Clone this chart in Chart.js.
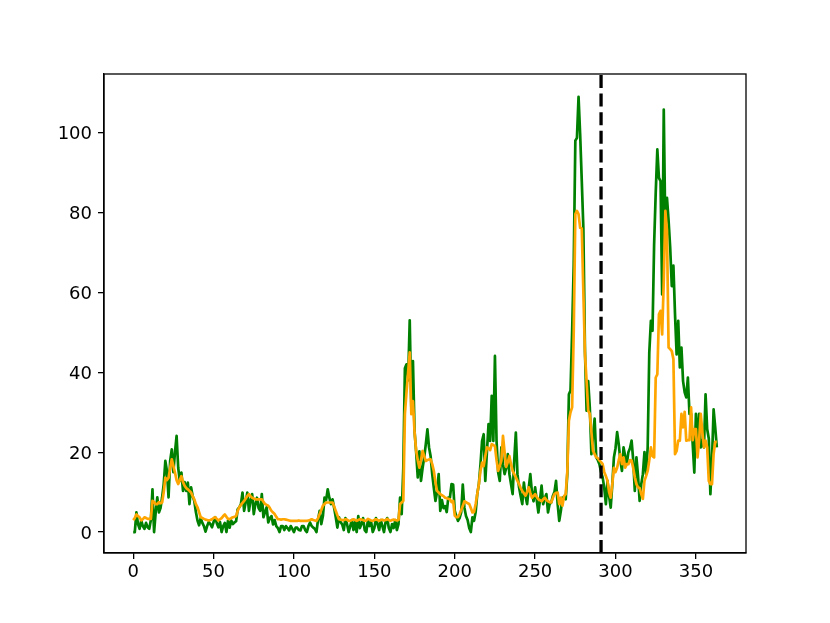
<!DOCTYPE html>
<html>
<head>
<meta charset="utf-8">
<script src="https://cdn.jsdelivr.net/npm/chart.js@4"></script>
<style>
	body { margin: 0; background: #fff; }
	canvas { display: block; }
</style>
</head>
<body>
<canvas id="myChart" width="830" height="623"></canvas>
<script>
// data
const greenValues = [
	0, 0, 4.9, 2, 0.8, 2.9, 1.5, 0.8, 2.3, 1.2,
	0.8, 3, 10.7, 0, 5, 8.7, 4.9, 6, 8.7, 12,
	17.8, 15.3, 8.7, 17.8, 20.7, 15, 20, 24.1, 16.1, 12.8,
	14.9, 10.3, 12.5, 10.3, 12.4, 7, 11.2, 9, 7.8, 5,
	2.9, 1.7, 3.5, 2.3, 1.5, 0.1, 1.5, 2.5, 2, 1.2,
	2.5, 3.7, 2.2, 1.2, 2.5, 0, 1.5, 2.3, 0, 2.9,
	1.1, 2.9, 2, 2.4, 2.7, 5.7, 6.2, 7, 9.9, 5.3,
	7.5, 9.9, 5.3, 8, 9.5, 4.5, 7, 8.6, 6, 5.3,
	9.5, 3.7, 5, 6.2, 2.4, 3.5, 4, 1.9, 3, 1.5,
	1, 0, 1.5, 1.5, 0.5, 1.5, 1, 0.4, 1.5, 0.8,
	0, 1.1, 1.1, 0.5, 0.4, 1.5, 1.5, 0.5, 0, 1.5,
	2.4, 1.5, 1.1, 0.8, 0, 3.2, 5.3, 2, 4, 8.6,
	8, 10.7, 8.6, 7, 8.2, 6, 3.7, 1.1, 3.7, 2.5,
	1.9, 0.5, 3.5, 2, 0, 1.5, 3, 0.5, 2.5, 0,
	4, 1, 2, 3.5, 0.5, 0, 3, 1.5, 2.5, 0,
	1, 3.5, 2, 0.5, 3, 1.5, 0, 2.5, 3.5, 1,
	0, 2, 1, 3, 0.5, 2, 8.6, 4.5, 16, 41,
	42, 38, 53, 31.2, 42.8, 25.3, 20, 13.7, 20.2, 12.8,
	16, 18.7, 22, 25.7, 21.2, 19, 14.5, 11, 7.8, 10,
	14.5, 5.3, 8, 6, 6.5, 5, 8.6, 8.6, 12, 11.9,
	5.3, 4, 2.8, 3.5, 4.9, 11.9, 6.1, 4, 3, 1,
	0, 3.7, 2.8, 5, 9.5, 12, 16.9, 22.8, 24.5, 12.8,
	20, 27, 22.8, 34.1, 22.8, 44.1, 22.8, 15, 12.8, 21.2,
	17, 14.5, 16, 19.5, 14.5, 12, 9.5, 18, 24.9, 14.5,
	11.2, 9, 7, 12.4, 9, 7, 11, 14.5, 10, 7.7,
	11.2, 8, 4.9, 8, 11.6, 7, 8.5, 9.5, 4.9, 7,
	7.4, 9, 10, 12.8, 7, 2.8, 5.3, 8.6, 8.6, 8.2,
	14.5, 34.5, 35.4, 50, 67, 98, 98.7, 109, 99.6, 88,
	76, 45.3, 30.4, 37.8, 31.2, 19.5, 24, 28.4, 18.7, 18,
	17, 15, 13.7, 11, 7, 12.8, 9, 6.1, 12, 18.7,
	21, 25, 22, 18, 15.3, 21.2, 19, 17, 20, 21,
	22.9, 18, 10.3, 18.7, 14, 7.8, 12, 14.5, 20, 14.5,
	21.2, 45, 52.9, 50.4, 72, 85, 95.8, 88.7, 87.9, 59.5,
	105.8, 74.5, 83.7, 78, 71.2, 61.6, 66.7, 54.5, 44.5, 52.9,
	41.2, 46.2, 37.8, 35, 33.7, 38.7, 29.6, 29.6, 22, 14.9,
	29.6, 22, 29.6, 21.2, 23, 21.2, 34.5, 25.8, 23.4, 9.5,
	18, 30.7, 26.2, 21.2
];

const orangeValues = [
	3, 3.5, 4.4, 4, 3.7, 2.9, 3.2, 3.7, 3.5, 3.3,
	3.3, 3.3, 7.8, 7.5, 7, 7, 7.5, 7.2, 7.4, 10,
	13.6, 13, 13.6, 16, 18.2, 16.5, 14.9, 13, 12, 13,
	14, 12.5, 11.6, 11, 10.7, 10.3, 9.9, 9, 8.2, 7,
	6.2, 5, 3.7, 3.5, 3.3, 3.1, 3, 2.9, 3, 3.2,
	3.5, 3.7, 3.3, 2.9, 3.2, 3.5, 4, 4.4, 3.8, 3.3,
	3.2, 3.5, 3.7, 3.8, 4, 5.3, 6.2, 6.8, 7.3, 7.8,
	8.4, 9, 9.5, 9, 8.6, 8.4, 8.2, 8.2, 8.2, 8.2,
	8.2, 7.6, 7, 6.8, 6.6, 6, 5.3, 4.9, 4.5, 3.8,
	3.2, 3.2, 3.1, 3.2, 3.2, 3.1, 3, 2.9, 2.8, 2.8,
	2.8, 2.8, 2.8, 2.9, 2.8, 2.8, 2.8, 2.8, 2.8, 2.9,
	3, 3.2, 3, 2.9, 2.8, 3.5, 4.5, 5.5, 6.6, 7,
	7.4, 7.4, 7.4, 7.4, 7.4, 6.4, 5.3, 4.2, 3.2, 3.1,
	3, 3, 3.2, 3.1, 2.8, 2.8, 3, 3.2, 3, 2.8,
	3, 3.2, 3.1, 3, 2.8, 2.9, 3.3, 3.1, 2.9, 2.8,
	3, 3.2, 3, 2.8, 3, 3.1, 2.9, 3, 3.3, 3,
	2.8, 3, 3.1, 3, 2.9, 3, 7, 7.4, 7.8, 29.5,
	35, 40, 45, 29.5, 32.8, 25, 20.3, 18, 16.1, 18,
	20.3, 19, 17.8, 18, 18.2, 18.2, 17, 15.3, 12.5, 10.3,
	9.9, 9.5, 9.2, 9, 8.6, 8.5, 8.3, 8.2, 7.5, 7.8,
	4.1, 3.7, 3.7, 4.5, 5.5, 6.5, 7.7, 7.5, 7.2, 7,
	6, 4.9, 5, 7, 9.5, 12, 15.3, 17.4, 16.5, 19,
	21.2, 21, 20.5, 22, 21.8, 21.5, 18, 15.3, 16.5, 17.9,
	24.1, 20, 16.3, 17.5, 19, 17, 15.3, 14.5, 13.7, 12.8,
	12, 11, 10.3, 9.7, 9.1, 10, 11.2, 9.8, 8.6, 9,
	9.5, 8.8, 8.2, 8, 7.7, 8.2, 8.6, 8, 7.7, 7.5,
	7.4, 8.5, 9.5, 9.8, 9.9, 7, 8.6, 6.6, 9, 9.5,
	15, 27.9, 30, 31.2, 50, 79.6, 80.4, 79.6, 76.2, 76,
	60, 44.5, 37.8, 30.4, 29.6, 25, 20.3, 19.5, 18.7, 18.5,
	17.9, 17.5, 17, 15, 14, 12.8, 10, 8.6, 12, 16.1,
	15, 16.1, 18, 19.5, 17, 18.7, 16.1, 17, 17, 18,
	17.9, 16, 13.7, 12, 11.2, 11, 9.5, 8.3, 12.8, 14,
	15.3, 18, 21.2, 19, 18.7, 38.7, 39.5, 54.5, 55.4, 49.5,
	62.8, 80.4, 75.5, 46.2, 45.8, 45.3, 43.3, 19.5, 20.3, 22.9,
	22.9, 29.6, 26.2, 30.1, 22.9, 23, 23, 31.2, 23, 25.8,
	25.8, 18.7, 23, 29.6, 25, 21.2, 22.9, 21.2, 12.8, 12,
	12, 19.5, 22.6, 22.6
];

const days = greenValues.map((v, i) => i);
const splitDay = 291;
const xTicks = [0, 50, 100, 150, 200, 250, 300, 350];
const yTicks = [0, 20, 40, 60, 80, 100];

const tickFont = { family: "DejaVu Sans", size: 18 };

// frame around the plot + dashed split line
const framePlugin = {
	id: "frame",
	afterDatasetsDraw(chart) {
		const { ctx, chartArea, scales } = chart;
		const x = scales.x.getPixelForValue(splitDay);
		ctx.save();
		ctx.strokeStyle = "#000";
		ctx.lineWidth = 3.3;
		ctx.setLineDash([13, 5.6]);
		ctx.beginPath();
		ctx.moveTo(x, chartArea.bottom);
		ctx.lineTo(x, chartArea.top);
		ctx.stroke();
		ctx.restore();
	},
	afterDraw(chart) {
		const { ctx, chartArea } = chart;
		ctx.save();
		ctx.strokeStyle = "#000";
		ctx.lineWidth = 1.3;
		ctx.strokeRect(chartArea.left, chartArea.top, chartArea.right - chartArea.left, chartArea.bottom - chartArea.top);
		ctx.restore();
	}
};

const ctx = document.getElementById("myChart").getContext("2d");
const myChart = new Chart(ctx, {
	type: "line",
	data: {
		datasets: [
			{
				data: days.map((d, i) => ({ x: d, y: greenValues[i] })),
				borderColor: "#008000",
				borderWidth: 2.7,
				borderJoinStyle: "round",
				pointRadius: 0,
				fill: false,
				order: 1,
			},
			{
				data: days.map((d, i) => ({ x: d, y: orangeValues[i] })),
				borderColor: "#ffa500",
				borderWidth: 2.7,
				borderJoinStyle: "round",
				pointRadius: 0,
				fill: false,
				order: 0,
			},
		],
	},
	options: {
		responsive: false,
		animation: false,
		layout: { padding: { left: 0, top: 74, right: 84, bottom: 0 } },
		plugins: { legend: { display: false }, tooltip: { enabled: false } },
		scales: {
			x: {
				type: "linear",
				min: -18.15,
				max: 381.15,
				afterBuildTicks: (scale) => { scale.ticks = xTicks.map(v => ({ value: v })); },
				afterFit: (scale) => { scale.height = 70; },
				grid: { drawOnChartArea: false, drawTicks: true, tickLength: 6, color: "#000", lineWidth: 1.3 },
				border: { display: true, color: "#000", width: 1.3 },
				ticks: { color: "#000", font: tickFont, padding: 3, maxRotation: 0 },
			},
			y: {
				min: -5.25,
				max: 114.7,
				afterBuildTicks: (scale) => { scale.ticks = yTicks.map(v => ({ value: v })); },
				afterFit: (scale) => { scale.width = 104; },
				grid: { drawOnChartArea: false, drawTicks: true, tickLength: 6, color: "#000", lineWidth: 1.3 },
				border: { display: true, color: "#000", width: 1.3 },
				ticks: { color: "#000", font: tickFont, padding: 6, labelOffset: 2 },
			},
		},
	},
	plugins: [framePlugin],
});
</script>
</body>
</html>
